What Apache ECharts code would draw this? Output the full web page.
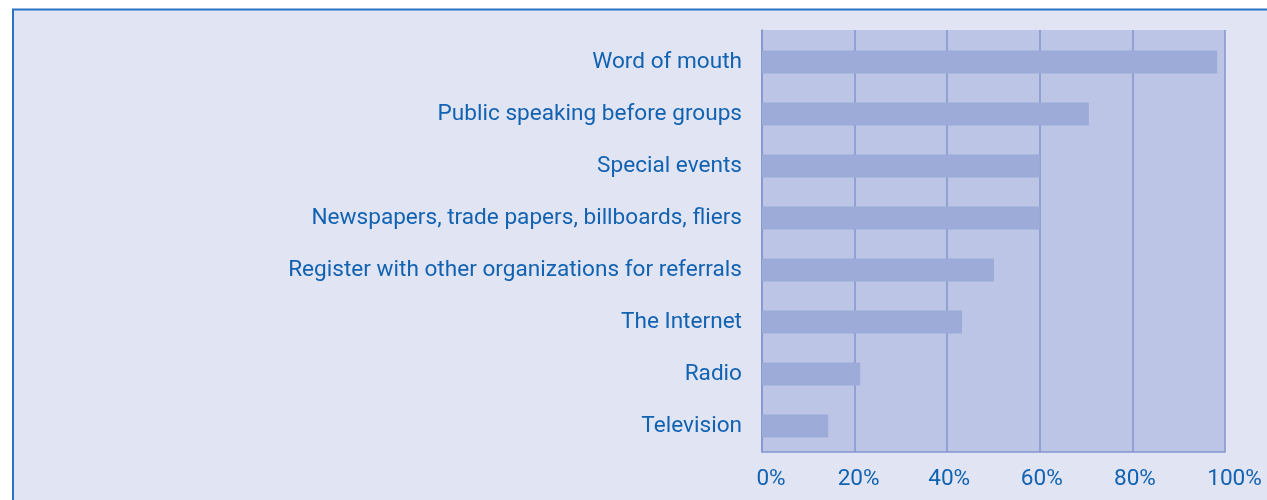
<!DOCTYPE html>
<html><head><meta charset="utf-8">
<script src="https://cdn.jsdelivr.net/npm/echarts@6/dist/echarts.min.js"></script>
<style>html,body{margin:0;padding:0;background:#fff}#c{width:1267px;height:500px}</style>
</head><body><div id="c"></div>
<script>
const categories = ["Word of mouth","Public speaking before groups","Special events","Newspapers, trade papers, billboards, fliers","Register with other organizations for referrals","The Internet","Radio","Television"];
const values = [98.3, 70.6, 60, 60, 50.1, 43.2, 21.2, 14.3];
const tickLabels = ["0%","20%","40%","60%","80%","100%"];

const chart = echarts.init(document.getElementById('c'));
const textColor = '#1262B2';
const gridColor = '#8495CF';
const font = 'Roboto';
// horizontal nudge (px) of each tick label, as in the original artwork
const tickShift = [9, 4, 2, 2, 2.5, 9.5];
const rich = {};
tickShift.forEach(function (s, i) {
  rich['t' + i] = {color: textColor, fontFamily: font, fontSize: 22.6, padding: [0, 0, 0, s * 2]};
});
chart.setOption({
  backgroundColor: '#ffffff',
  animation: false,
  graphic: [{
    type: 'rect', z: -10, silent: true,
    shape: {x: 13, y: 9.5, width: 1400, height: 600},
    style: {fill: '#E1E5F3', stroke: '#2A72C4', lineWidth: 2}
  }],
  grid: [
    {left: 762, right: 42, top: 30, bottom: 48, containLabel: false,
      show: true, backgroundColor: '#BCC5E5', borderWidth: 0},
    {left: 762, right: 42, top: 36, bottom: 48, containLabel: false}
  ],
  xAxis: [{
    gridIndex: 0, type: 'value', min: 0, max: 100, interval: 20,
    axisLine: {show: true, lineStyle: {color: gridColor, width: 1.5}},
    axisTick: {show: false},
    splitLine: {show: true, lineStyle: {color: gridColor, width: 1.5}},
    axisLabel: {color: textColor, fontFamily: font, fontSize: 22.6, margin: 16, rich: rich,
      formatter: function (v) { const i = Math.round(v / 20); return '{t' + i + '|' + tickLabels[i] + '}'; }}
  }, {
    gridIndex: 1, type: 'value', min: 0, max: 100, interval: 20,
    axisLine: {show: false}, axisTick: {show: false},
    splitLine: {show: false}, axisLabel: {show: false}
  }],
  yAxis: [{
    gridIndex: 0, type: 'category', data: categories, inverse: true,
    axisLine: {show: true, lineStyle: {color: gridColor, width: 1.5}},
    axisTick: {show: false}, axisLabel: {show: false}
  }, {
    gridIndex: 1, type: 'category', data: categories, inverse: true,
    axisLine: {show: false},
    axisTick: {show: false},
    axisLabel: {color: textColor, fontFamily: font, fontSize: 22.6, margin: 20}
  }],
  series: [{
    type: 'bar', xAxisIndex: 1, yAxisIndex: 1, data: values, barWidth: 23,
    itemStyle: {color: '#9DABD8'}
  }]
});
</script></body></html>
